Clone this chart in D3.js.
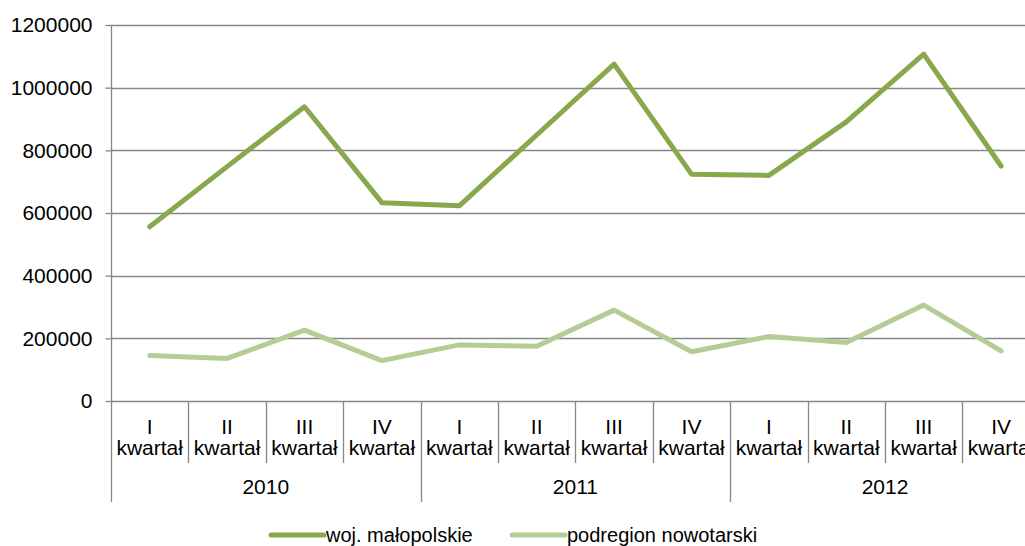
<!DOCTYPE html>
<html>
<head>
<meta charset="utf-8">
<script src="https://cdn.jsdelivr.net/npm/d3@7"></script>
<style>
  html, body { margin: 0; padding: 0; background: #fff; }
  svg { display: block; font-family: "Liberation Sans", Arial, sans-serif; }
</style>
</head>
<body>
<svg id="chart" width="1025" height="546"></svg>
<script>
// Quarterly values, 2010–2012
const years = ["2010", "2011", "2012"];
const quarters = ["I", "II", "III", "IV"];
const quarterWord = "kwartał";
const malopolskie = [556000, 748000, 939000, 633000, 623000, 849000, 1075000, 724000, 720000, 891000, 1107000, 750000];
const nowotarski = [145000, 136000, 226000, 129000, 179000, 175000, 290000, 157000, 206000, 187000, 306000, 160000];
const yTicks = [0, 200000, 400000, 600000, 800000, 1000000, 1200000];
const seriesNames = ["woj. małopolskie", "podregion nowotarski"];
const seriesColors = ["#88a84c", "#b6cc95"];

const keys = [];
years.forEach(y => quarters.forEach(q => keys.push(y + "-" + q)));

const svg = d3.select("#chart");
const axisFont = 21;
const legendFont = 20;
const gridColor = "#878787";

const x = d3.scaleBand().domain(keys).range([111, 1039.8]).paddingInner(0).paddingOuter(0);
const y = d3.scaleLinear().domain([0, 1200000]).range([401, 25]);

// Horizontal gridlines
svg.append("g")
  .selectAll("line")
  .data(yTicks)
  .join("line")
  .attr("x1", 111).attr("x2", 1025)
  .attr("y1", d => Math.round(y(d)) + 0.5).attr("y2", d => Math.round(y(d)) + 0.5)
  .attr("stroke", gridColor).attr("stroke-width", 1.3);

// Y axis
const yAxis = svg.append("g")
  .attr("transform", "translate(111.5,0)")
  .call(d3.axisLeft(y).tickValues(yTicks).tickSize(6).tickPadding(13).tickFormat(d3.format("d")));
yAxis.select(".domain").remove();
yAxis.selectAll(".tick line").attr("stroke", gridColor).attr("stroke-width", 1.3);
yAxis.selectAll(".tick text")
  .attr("font-size", axisFont).attr("fill", "#000")
  .attr("font-family", "Liberation Sans, Arial, sans-serif");
svg.append("line")
  .attr("x1", 111.5).attr("x2", 111.5).attr("y1", 25).attr("y2", 502)
  .attr("stroke", gridColor).attr("stroke-width", 1.3);

// Category separators: short between quarters, long between years
const xAxis = svg.append("g");
keys.forEach((k, i) => {
  if (i === 0) return;
  const xx = Math.round(x(k)) + 0.5;
  const yearEdge = i % quarters.length === 0;
  xAxis.append("line")
    .attr("x1", xx).attr("x2", xx)
    .attr("y1", 401).attr("y2", yearEdge ? 502 : 463)
    .attr("stroke", gridColor).attr("stroke-width", 1.3);
});
const lastEdge = x(keys[keys.length - 1]) + x.bandwidth();
xAxis.append("line")
  .attr("x1", lastEdge).attr("x2", lastEdge).attr("y1", 401).attr("y2", 502)
  .attr("stroke", gridColor).attr("stroke-width", 1.3);

// Quarter labels (numeral above the word)
keys.forEach(k => {
  const q = k.split("-")[1];
  const cx = x(k) + x.bandwidth() / 2;
  xAxis.append("text")
    .attr("x", cx).attr("y", 434).attr("text-anchor", "middle")
    .attr("font-size", axisFont).attr("fill", "#000")
    .text(q);
  xAxis.append("text")
    .attr("x", cx).attr("y", 455).attr("text-anchor", "middle")
    .attr("font-size", axisFont).attr("fill", "#000")
    .text(quarterWord);
});

// Year labels
years.forEach(yr => {
  const first = x(yr + "-" + quarters[0]);
  const last = x(yr + "-" + quarters[quarters.length - 1]) + x.bandwidth();
  xAxis.append("text")
    .attr("x", (first + last) / 2).attr("y", 494)
    .attr("text-anchor", "middle")
    .attr("font-size", axisFont).attr("fill", "#000")
    .text(yr);
});

// Series lines
const line = d3.line()
  .x((d, i) => x(keys[i]) + x.bandwidth() / 2)
  .y(d => y(d));

[nowotarski, malopolskie].forEach((vals, idx) => {
  const color = idx === 0 ? seriesColors[1] : seriesColors[0];
  svg.append("path")
    .datum(vals)
    .attr("d", line)
    .attr("fill", "none")
    .attr("stroke", color)
    .attr("stroke-width", 5)
    .attr("stroke-linejoin", "round")
    .attr("stroke-linecap", "round");
});

// Legend
const legendItems = [
  { name: seriesNames[0], color: seriesColors[0], x0: 271, x1: 324, tx: 326 },
  { name: seriesNames[1], color: seriesColors[1], x0: 512, x1: 565, tx: 567 }
];
const legend = svg.append("g");
legendItems.forEach(it => {
  legend.append("line")
    .attr("x1", it.x0).attr("x2", it.x1).attr("y1", 535).attr("y2", 535)
    .attr("stroke", it.color).attr("stroke-width", 5).attr("stroke-linecap", "round");
  legend.append("text")
    .attr("x", it.tx).attr("y", 542)
    .attr("font-size", legendFont).attr("fill", "#000")
    .text(it.name);
});
</script>
</body>
</html>
